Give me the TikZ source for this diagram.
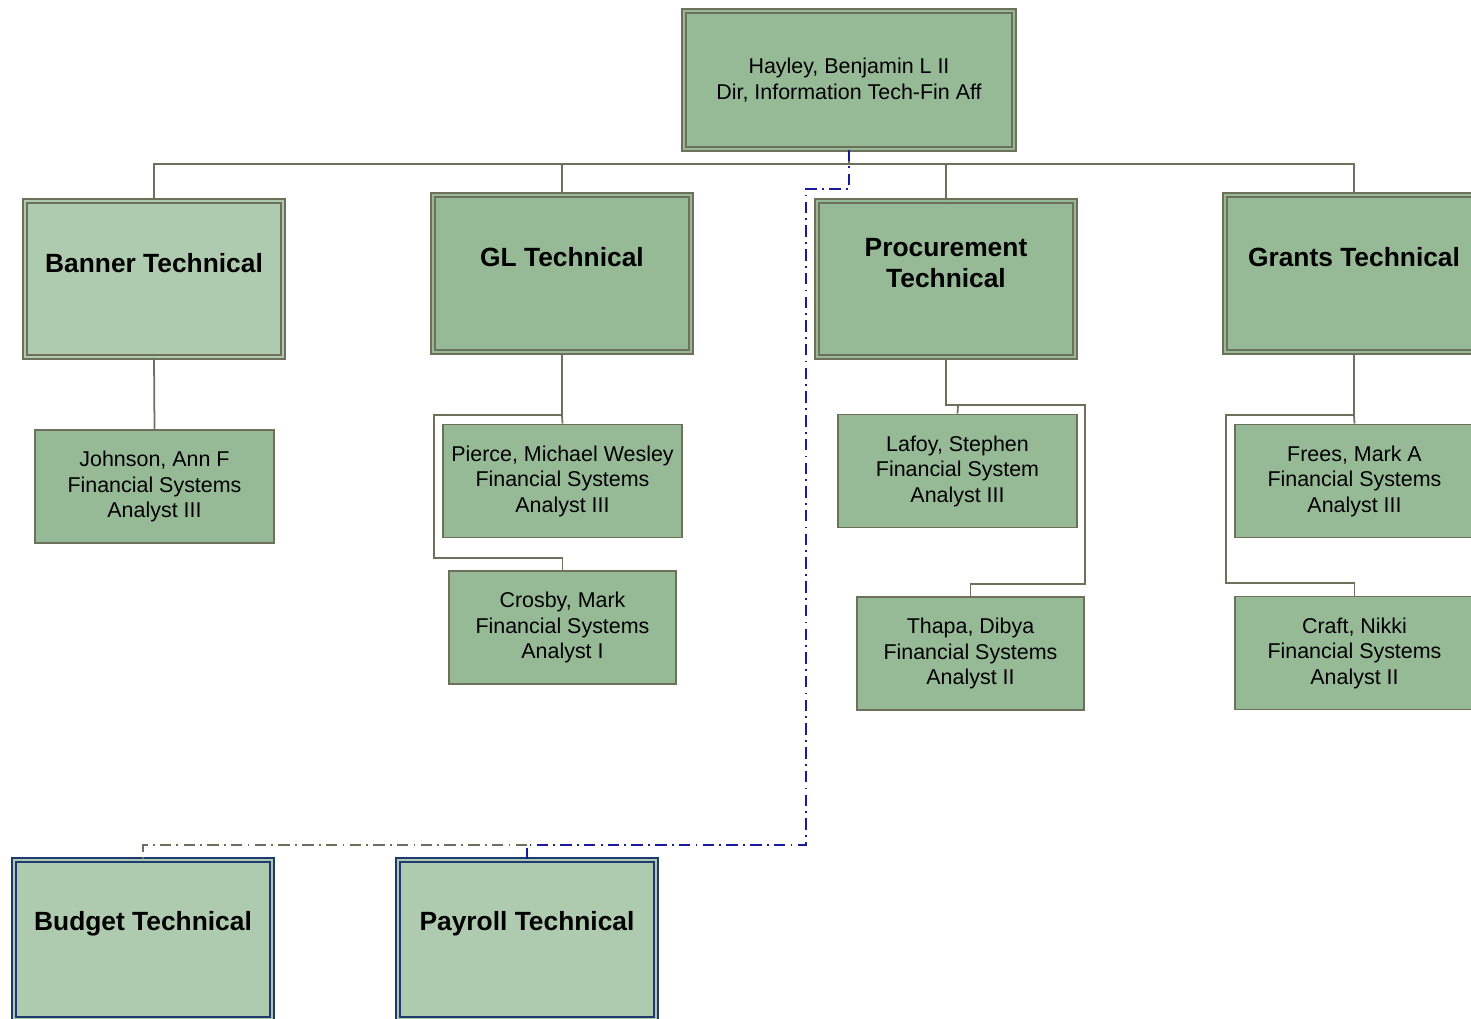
\documentclass[tikz,border=0pt]{standalone}
\usepackage{fontspec}
\setmainfont{Liberation Sans}
\definecolor{boxgreen}{HTML}{96B996}
\definecolor{palegreen}{HTML}{AFCBAF}
\definecolor{boxline}{HTML}{6E705C}
\definecolor{navy}{HTML}{1A1A9C}
\definecolor{budgetline}{HTML}{1F3A70}
\begin{document}
\begin{tikzpicture}[x=0.02cm, y=-0.02cm,
  unit/.style={draw=boxline, fill=boxgreen, line width=0.9pt, double=boxgreen, double distance=1.6pt,
    minimum width=5.16cm, minimum height=3.12cm, inner sep=0pt},
  paleunit/.style={unit, fill=palegreen, double=palegreen},
  navyunit/.style={paleunit, draw=budgetline},
  person/.style={draw=boxline, fill=boxgreen, line width=1pt, minimum width=4.78cm, minimum height=2.26cm,
    inner sep=0pt, align=center, font=\fontsize{12.2}{14.5}\selectfont},
  title/.style={align=center, font=\fontsize{15}{18}\selectfont\bfseries},
  link/.style={draw=boxline, line width=1pt},
  dotlink/.style={line width=1.2pt, dash pattern=on 6.5pt off 3pt on 1pt off 3pt}]
\useasboundingbox (0,0) rectangle (1471,1018);
\clip (0,0) rectangle (1471,1018);
% director
\node[unit, minimum width=6.6cm, minimum height=2.76cm, align=center, font=\fontsize{12.2}{14.5}\selectfont] (top) at (849,80)
  {Hayley, Benjamin L II\\Dir, Information Tech-Fin Aff};
% teams
\node[paleunit] (banner) at (154,279){};
\node[title] (bannert) at (154,263){Banner Technical};
\node[unit, minimum height=3.14cm] (gl) at (562,273.5){};
\node[title] (glt) at (562,257){GL Technical};
\node[unit] (proc) at (946,279){};
\node[title] (proct) at (946,263){Procurement\\Technical};
\node[unit, minimum height=3.14cm] (grants) at (1354,273.5){};
\node[title] (grantst) at (1354,257){Grants Technical};
\node[navyunit, minimum height=3.18cm] (budget) at (143,939.5){};
\node[title] (budgett) at (143,924){Budget Technical};
\node[navyunit, minimum height=3.18cm] (payroll) at (527,939.5){};
\node[title] (payrollt) at (527,924){Payroll Technical};
% staff
\node[person] (johnson) at (154.5,486.5){Johnson, Ann F\\Financial Systems\\Analyst III};
\node[person] (pierce) at (562.5,481){Pierce, Michael Wesley\\Financial Systems\\Analyst III};
\node[person, minimum width=4.54cm] (crosby) at (562.5,627.5){Crosby, Mark\\Financial Systems\\Analyst I};
\node[person] (lafoy) at (957.5,471){Lafoy, Stephen\\Financial System\\Analyst III};
\node[person, minimum width=4.54cm] (thapa) at (970.5,653.5){Thapa, Dibya\\Financial Systems\\Analyst II};
\node[person] (frees) at (1354.5,481){Frees, Mark A\\Financial Systems\\Analyst III};
\node[person] (craft) at (1354.5,653){Craft, Nikki\\Financial Systems\\Analyst II};
% bus
\coordinate (bus) at (849,164);
\draw[link] (top.south) -- (bus);
\draw[link] (banner.north) |- (bus) -| (grants.north);
\draw[link] (gl.north) -- (gl.north |- bus);
\draw[link] (proc.north) -- (proc.north |- bus);
% team lines
\draw[link] (banner.south) -- (johnson.north);
\coordinate (glj) at (562,415);
\draw[link] (gl.south) -- (glj) -| (434,558) -| (crosby.north);
\draw[link] (glj) -- (pierce.north);
\coordinate (procj) at (958,405);
\draw[link] (proc.south) |- (procj) -| (1085,584) -| (thapa.north);
\draw[link] (procj) -- (lafoy.north);
\coordinate (grj) at (1354,415);
\draw[link] (grants.south) -- (grj) -| (1226,583) -| (craft.north);
\draw[link] (grj) -- (frees.north);
% dotted lines
\coordinate (payj) at (527,845);
\draw[dotlink, navy] (top.south) -- (849,189) -| (806,845) -- (payj) -- (payroll.north);
\draw[dotlink, boxline, line width=0.9pt] (payj) -| (budget.north);
\end{tikzpicture}
\end{document}
